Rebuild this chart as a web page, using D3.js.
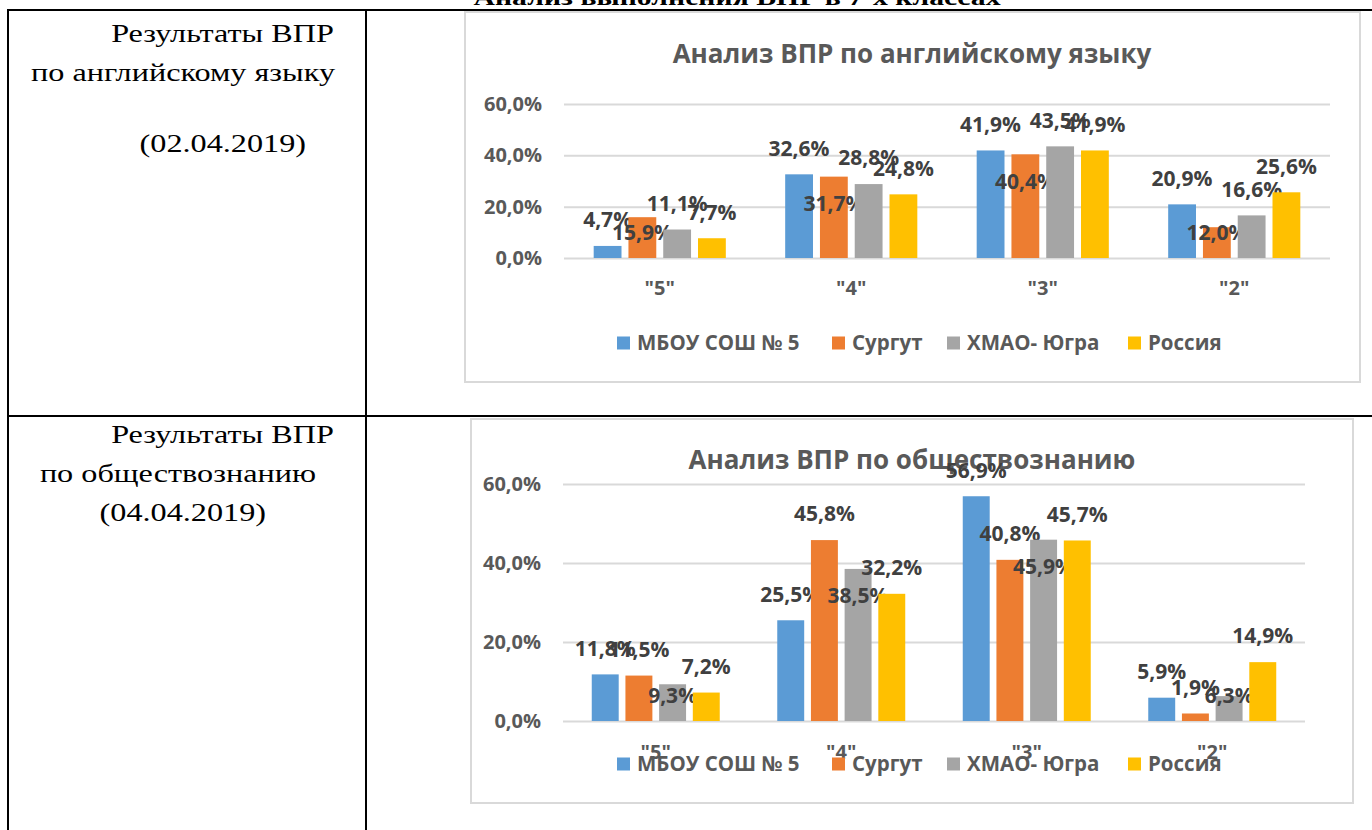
<!DOCTYPE html>
<html>
<head>
<meta charset="utf-8">
<script src="https://cdn.jsdelivr.net/npm/d3@7"></script>
<style>
  body { margin: 0; background: #fff; }
  svg { display: block; }
  .cell-text { font-family: "Liberation Serif", "Times New Roman", serif; font-size: 26px; fill: #000; }
  .chart-text { font-family: "Open Sans", sans-serif; font-weight: 700; }
</style>
</head>
<body>
<div id="chart"></div>
<script>
// Data
////////////////////////////////////////////////////////////////////
const categories = ['"5"', '"4"', '"3"', '"2"'];
const seriesNames = ["МБОУ СОШ № 5", "Сургут", "ХМАО- Югра", "Россия"];
const seriesColors = ["#5b9bd5", "#ed7d31", "#a5a5a5", "#ffc000"];
const yTicks = [0, 20, 40, 60];

// английский язык
const engSchool = [4.7, 32.6, 41.9, 20.9];
const engSurgut = [15.9, 31.7, 40.4, 12.0];
const engHmao = [11.1, 28.8, 43.5, 16.6];
const engRussia = [7.7, 24.8, 41.9, 25.6];

// обществознание
const socSchool = [11.8, 25.5, 56.9, 5.9];
const socSurgut = [11.5, 45.8, 40.8, 1.9];
const socHmao = [9.3, 38.5, 45.9, 6.3];
const socRussia = [7.2, 32.2, 45.7, 14.9];

const pageTitle = "Анализ выполнения ВПР в 7-х классах";

// Svg
////////////////////////////////////////////////////////////////////
const svg = d3.select("#chart")
  .append("svg")
  .attr("width", 1372)
  .attr("height", 830);

svg.append("rect").attr("width", 1372).attr("height", 830).attr("fill", "#fff");

// the word document is a bit stretched sideways in the screenshot
const stretch = 1.24;

// page title (cut off at the top in the original)
svg.append("text")
  .attr("transform", `translate(737,5) scale(${stretch},1)`)
  .attr("text-anchor", "middle")
  .style("font-family", "Liberation Serif, serif")
  .style("font-weight", 700)
  .style("font-size", "24px")
  .text(pageTitle);

// Table lines
////////////////////////////////////////////////////////////////////
const table = svg.append("g").attr("stroke", "#000").attr("stroke-width", 2);
table.append("line").attr("x1", 8).attr("x2", 1372).attr("y1", 10).attr("y2", 10);
table.append("line").attr("x1", 8).attr("x2", 1372).attr("y1", 416).attr("y2", 416);
table.append("line").attr("x1", 8).attr("x2", 8).attr("y1", 9).attr("y2", 830);
table.append("line").attr("x1", 366).attr("x2", 366).attr("y1", 9).attr("y2", 830);

// Left column text
////////////////////////////////////////////////////////////////////
function cellText(lines) {
  lines.forEach((l) => {
    svg.append("text")
      .attr("class", "cell-text")
      .attr("transform", `translate(${l.x},${l.y}) scale(${stretch},1)`)
      .attr("text-anchor", "end")
      .text(l.t);
  });
}
cellText([
  { t: "Результаты ВПР", x: 334, y: 42 },
  { t: "по английскому языку", x: 335, y: 81 },
  { t: "(02.04.2019)", x: 306, y: 152 },
]);
cellText([
  { t: "Результаты ВПР", x: 334, y: 443 },
  { t: "по обществознанию", x: 316, y: 482 },
  { t: "(04.04.2019)", x: 266, y: 521 },
]);

// Chart drawing
////////////////////////////////////////////////////////////////////
function drawChart(opt) {
  const g = svg.append("g");

  // frame
  g.append("rect")
    .attr("x", opt.box[0]).attr("y", opt.box[1])
    .attr("width", opt.box[2] - opt.box[0]).attr("height", opt.box[3] - opt.box[1])
    .attr("fill", "#fff").attr("stroke", "#d9d9d9").attr("stroke-width", 2);

  // title
  g.append("text")
    .attr("class", "chart-text")
    .attr("x", opt.titleX).attr("y", opt.titleY)
    .attr("dy", "0.35em")
    .attr("text-anchor", "middle")
    .attr("fill", "#595959")
    .style("font-size", "26px")
    .text(opt.title);

  // scales
  const x0 = d3.scaleBand()
    .domain(categories)
    .range([opt.left, opt.right])
    .paddingInner(0.31)
    .paddingOuter(0.155);

  const x1 = d3.scaleBand()
    .domain(d3.range(seriesNames.length))
    .range([0, x0.bandwidth()])
    .paddingInner(0.2);

  const y = d3.scaleLinear()
    .domain([0, 60])
    .range([opt.bottom, opt.top]);

  // gridlines + y labels
  const yAxis = d3.axisLeft(y)
    .tickValues(yTicks)
    .tickSize(-(opt.right - opt.left))
    .tickPadding(22)
    .tickFormat((d) => d3.format(".1f")(d).replace(".", ",") + "%");

  const yg = g.append("g")
    .attr("transform", `translate(${opt.left},0)`)
    .call(yAxis);
  yg.select(".domain").remove();
  yg.selectAll(".tick line").attr("stroke", "#d9d9d9").attr("stroke-width", 2);
  yg.selectAll(".tick text")
    .attr("class", "chart-text")
    .attr("fill", "#595959")
    .style("font-size", "20px");

  // bars
  const rows = opt.series.map((vals, si) =>
    vals.map((v, ci) => ({ si, cat: categories[ci], v }))
  );

  const groups = g.append("g")
    .selectAll("g")
    .data(rows)
    .join("g")
    .attr("fill", (d, i) => seriesColors[i]);

  groups.selectAll("rect")
    .data((d) => d)
    .join("rect")
    .attr("x", (d) => x0(d.cat) + x1(d.si))
    .attr("y", (d) => y(d.v))
    .attr("width", x1.bandwidth())
    .attr("height", (d) => y(0) - y(d.v));

  // category labels
  g.append("g")
    .selectAll("text")
    .data(categories)
    .join("text")
    .attr("class", "chart-text")
    .attr("x", (d) => x0(d) + x0.bandwidth() / 2)
    .attr("y", opt.catY)
    .attr("dy", "0.35em")
    .attr("text-anchor", "middle")
    .attr("fill", "#595959")
    .style("font-size", "20px")
    .text((d) => d);

  // legend
  const leg = g.append("g")
    .selectAll("g")
    .data(seriesNames)
    .join("g")
    .attr("transform", (d, i) => `translate(${opt.legendX[i]},${opt.legendY})`);
  leg.append("rect")
    .attr("x", 0).attr("y", -6.5)
    .attr("width", 13).attr("height", 13)
    .attr("fill", (d, i) => seriesColors[i]);
  leg.append("text")
    .attr("class", "chart-text")
    .attr("x", 20)
    .attr("dy", "0.35em")
    .attr("fill", "#595959")
    .style("font-size", "20.5px")
    .text((d) => d);

  // data labels
  const fmt = (v) => d3.format(".1f")(v).replace(".", ",") + "%";
  groups.selectAll("text")
    .data((d) => d)
    .join("text")
    .attr("class", "chart-text")
    .attr("x", (d) => x0(d.cat) + x1(d.si) + x1.bandwidth() / 2)
    .attr("y", (d) =>
      d.si === opt.insideSeries
        ? Math.min(y(d.v) + 27, y(0) - 25)
        : y(d.v) - 26
    )
    .attr("dy", "0.35em")
    .attr("text-anchor", "middle")
    .attr("fill", "#404040")
    .style("font-size", "21px")
    .text((d) => fmt(d.v));
}

drawChart({
  title: "Анализ ВПР по английскому языку",
  series: [engSchool, engSurgut, engHmao, engRussia],
  box: [465, 12, 1360, 382],
  titleX: 912, titleY: 54,
  left: 564, right: 1330, top: 104, bottom: 258,
  catY: 288,
  legendX: [617, 832, 947, 1128], legendY: 343,
  insideSeries: 1,
});

drawChart({
  title: "Анализ ВПР по обществознанию",
  series: [socSchool, socSurgut, socHmao, socRussia],
  box: [471, 419, 1353, 803],
  titleX: 912, titleY: 460,
  left: 563, right: 1305, top: 484, bottom: 721,
  catY: 752,
  legendX: [617, 832, 947, 1128], legendY: 764,
  insideSeries: 2,
});
</script>
</body>
</html>
